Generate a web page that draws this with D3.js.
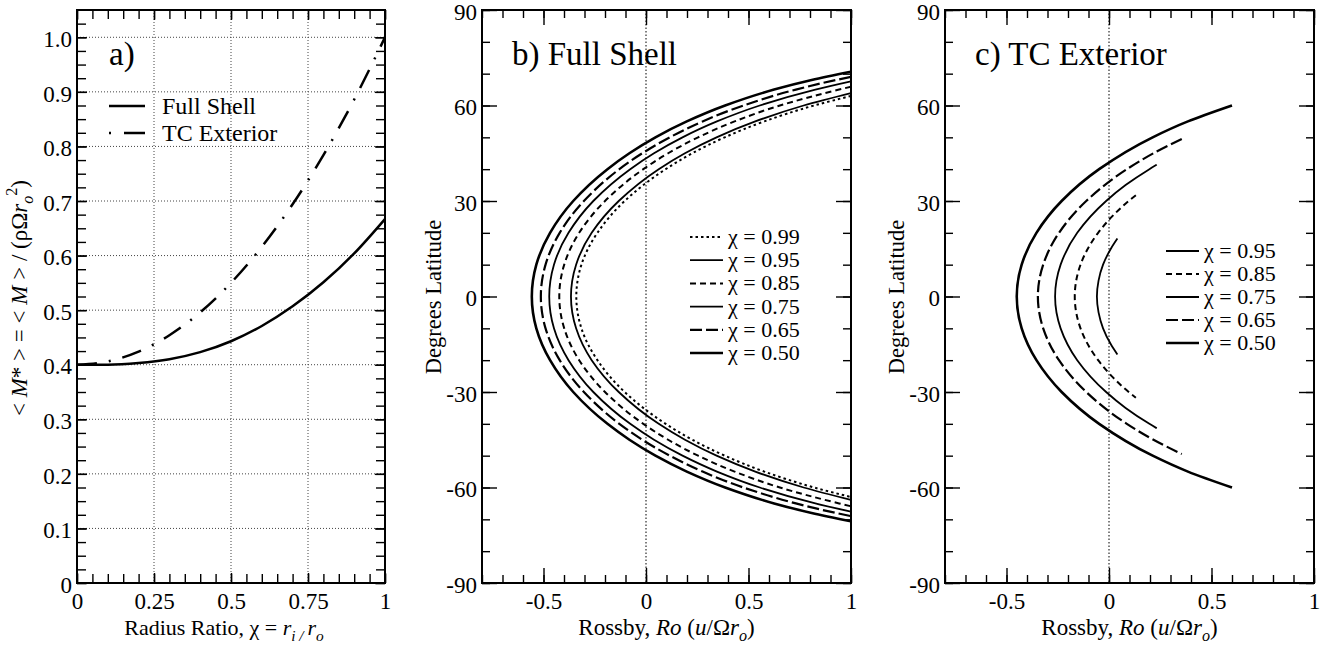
<!DOCTYPE html>
<html>
<head>
<meta charset="utf-8">
<script src="https://cdn.jsdelivr.net/npm/d3@7"></script>
<style>
body { margin: 0; background: #fff; }
svg { display: block; font-family: "Liberation Serif", "Times New Roman", serif; }
</style>
</head>
<body>
<div id="chart"></div>
<script>
// Panel a) mean angular momentum vs radius ratio
var chiA = [0, 0.1, 0.2, 0.3, 0.4, 0.5, 0.6, 0.7, 0.8, 0.9, 1.0];
var mFullShell = [0.400, 0.400, 0.403, 0.410, 0.423, 0.443, 0.471, 0.507, 0.551, 0.604, 0.667];
var mTCExterior = [0.400, 0.406, 0.424, 0.454, 0.496, 0.550, 0.616, 0.694, 0.784, 0.886, 1.000];

// Panel b) Full Shell: latitude vs Rossby number
var chiB = ["0.99", "0.95", "0.85", "0.75", "0.65", "0.50"];
var latB99 = [63.0, 60, 55, 50, 45, 40, 30, 20, 10, 0, -10, -20, -30, -40, -45, -50, -55, -60, -63.0];
var roB99 = [1.000, 0.820, 0.577, 0.384, 0.226, 0.096, -0.104, -0.237, -0.315, -0.340, -0.315, -0.237, -0.104, 0.096, 0.226, 0.384, 0.577, 0.820, 1.000];
var latB95 = [63.9, 60, 55, 50, 45, 40, 30, 20, 10, 0, -10, -20, -30, -40, -45, -50, -55, -60, -63.9];
var roB95 = [1.000, 0.769, 0.533, 0.344, 0.190, 0.062, -0.133, -0.265, -0.341, -0.366, -0.341, -0.265, -0.133, 0.062, 0.190, 0.344, 0.533, 0.769, 1.000];
var latB85 = [65.9, 65, 60, 55, 50, 45, 40, 30, 20, 10, 0, -10, -20, -30, -40, -45, -50, -55, -60, -65, -65.9];
var roB85 = [1.000, 0.942, 0.653, 0.432, 0.254, 0.108, -0.013, -0.200, -0.326, -0.399, -0.423, -0.399, -0.326, -0.200, -0.013, 0.108, 0.254, 0.432, 0.653, 0.942, 1.000];
var latB75 = [67.6, 65, 60, 55, 50, 45, 40, 30, 20, 10, 0, -10, -20, -30, -40, -45, -50, -55, -60, -65, -67.6];
var roB75 = [1.000, 0.826, 0.555, 0.346, 0.178, 0.039, -0.077, -0.257, -0.378, -0.449, -0.472, -0.449, -0.378, -0.257, -0.077, 0.039, 0.178, 0.346, 0.555, 0.826, 1.000];
var latB65 = [69.0, 67, 65, 60, 55, 50, 45, 40, 30, 20, 10, 0, -10, -20, -30, -40, -45, -50, -55, -60, -65, -67, -69.0];
var roB65 = [1.000, 0.857, 0.731, 0.475, 0.276, 0.116, -0.018, -0.130, -0.303, -0.421, -0.490, -0.513, -0.490, -0.421, -0.303, -0.130, -0.018, 0.116, 0.276, 0.475, 0.731, 0.857, 1.000];
var latB50 = [70.6, 68, 65, 60, 55, 50, 45, 40, 30, 20, 10, 0, -10, -20, -30, -40, -45, -50, -55, -60, -65, -68, -70.6];
var roB50 = [1.000, 0.808, 0.625, 0.386, 0.199, 0.046, -0.081, -0.188, -0.355, -0.468, -0.535, -0.557, -0.535, -0.468, -0.355, -0.188, -0.081, 0.046, 0.199, 0.386, 0.625, 0.808, 1.000];

// Panel c) TC Exterior
var chiC = ["0.95", "0.85", "0.75", "0.65", "0.50"];
var latC95 = [18.2, 15, 10, 5, 0, -5, -10, -15, -18.2];
var roC95 = [0.041, 0.009, -0.029, -0.051, -0.059, -0.051, -0.029, 0.009, 0.041];
var latC85 = [31.8, 30, 25, 20, 10, 0, -10, -20, -25, -30, -31.8];
var roC85 = [0.131, 0.096, 0.013, -0.053, -0.139, -0.167, -0.139, -0.053, 0.013, 0.096, 0.131];
var latC75 = [41.4, 40, 35, 30, 20, 10, 0, -10, -20, -30, -35, -40, -41.4];
var roC75 = [0.233, 0.197, 0.081, -0.014, -0.155, -0.236, -0.263, -0.236, -0.155, -0.014, 0.081, 0.197, 0.233];
var latC65 = [49.5, 45, 40, 30, 20, 10, 0, -10, -20, -30, -40, -45, -49.5];
var roC65 = [0.355, 0.217, 0.087, -0.111, -0.244, -0.321, -0.347, -0.321, -0.244, -0.111, 0.087, 0.217, 0.355];
var latC50 = [60, 55, 50, 40, 30, 20, 10, 0, -10, -20, -30, -40, -50, -55, -60];
var roC50 = [0.600, 0.385, 0.213, -0.048, -0.231, -0.354, -0.426, -0.450, -0.426, -0.354, -0.231, -0.048, 0.213, 0.385, 0.600];

var seriesB = [[latB99, roB99], [latB95, roB95], [latB85, roB85], [latB75, roB75], [latB65, roB65], [latB50, roB50]];
var seriesC = [[latC95, roC95], [latC85, roC85], [latC75, roC75], [latC65, roC65], [latC50, roC50]];

// line styles per radius ratio
var lineStyle = {
    "0.99": { dash: "2.5,3", w: 2 },
    "0.95": { dash: null, w: 1.8 },
    "0.85": { dash: "6,4", w: 2 },
    "0.75": { dash: null, w: 1.8 },
    "0.65": { dash: "12,4", w: 2.2 },
    "0.50": { dash: null, w: 2.6 }
};

var svgWidth = 1330, svgHeight = 646;
var plotTop = 10, plotH = 573;
var fontTick = 23;

var svg = d3.select("#chart").append("svg")
    .attr("width", svgWidth)
    .attr("height", svgHeight);

// write text with italic / sub / superscript parts
function richText(sel, parts, size) {
    var cur = 0;
    parts.forEach(function (p) {
        var shift = p.sub ? size * 0.25 : (p.sup ? -size * 0.42 : 0);
        var ts = sel.append("tspan").attr("dy", shift - cur).text(p.t);
        cur = shift;
        if (p.i) ts.attr("font-style", "italic");
        if (p.sub || p.sup) ts.attr("font-size", size * 0.7);
    });
}

// frame with inward ticks on all four sides
function frame(g, x, y, o) {
    var w = x.range()[1], h = y.range()[0];
    function side(axisFn, scale, vals, len, fmt, tr) {
        var a = axisFn(scale).tickValues(vals).tickSize(-len).tickPadding(o.pad || 5)
            .tickFormat(fmt || function () { return ""; });
        var s = g.append("g").attr("transform", tr).call(a);
        s.select(".domain").remove();
        s.selectAll("line").attr("stroke-width", 1.4);
        s.attr("font-family", null).attr("font-size", fontTick);
        return s;
    }
    side(d3.axisLeft, y, o.yMinor, o.minorLen, null, null);
    side(d3.axisRight, y, o.yMinor, o.minorLen, null, `translate(${w},0)`);
    side(d3.axisBottom, x, o.xMinor, o.minorLen, null, `translate(0,${h})`);
    side(d3.axisTop, x, o.xMinor, o.minorLen, null, null);
    side(d3.axisLeft, y, o.yMajor, o.majorLen, o.yFmt, null)
        .call(function (s) { s.selectAll("text").attr("x", -5).attr("dy", "0.4em"); });
    side(d3.axisRight, y, o.yMajor, o.majorLen, null, `translate(${w},0)`);
    side(d3.axisBottom, x, o.xMajor, o.majorLen, o.xFmt, `translate(0,${h})`)
        .call(function (s) { s.selectAll("text").attr("y", 10); });
    side(d3.axisTop, x, o.xMajor, o.majorLen, null, null);
    g.append("rect")
        .attr("width", w).attr("height", h)
        .attr("fill", "none").attr("stroke", "#000").attr("stroke-width", 2);
}

// ---------- Panel a ----------
(function () {
    var left = 77, w = 308;
    var g = svg.append("g").attr("transform", `translate(${left},${plotTop})`);
    var x = d3.scaleLinear().domain([0, 1]).range([0, w]);
    var y = d3.scaleLinear().domain([0, 1.05]).range([plotH, 0]);

    // dotted grid
    var gridY = d3.range(1, 11).map(function (i) { return i / 10; });
    var gridX = [0.25, 0.5, 0.75];
    g.selectAll(".gy").data(gridY).enter().append("line")
        .attr("x1", 0).attr("x2", w).attr("y1", y).attr("y2", y)
        .attr("stroke", "#444").attr("stroke-width", 1).attr("stroke-dasharray", "1,2");
    g.selectAll(".gx").data(gridX).enter().append("line")
        .attr("y1", 0).attr("y2", plotH).attr("x1", x).attr("x2", x)
        .attr("stroke", "#444").attr("stroke-width", 1).attr("stroke-dasharray", "1,2");

    var line = d3.line()
        .x(function (d, i) { return x(chiA[i]); })
        .y(function (d) { return y(d); })
        .curve(d3.curveMonotoneX);

    g.append("path").datum(mTCExterior).attr("d", line)
        .attr("fill", "none").attr("stroke", "#000").attr("stroke-width", 2.5)
        .attr("stroke-dasharray", "20,12,2,12");
    g.append("path").datum(mFullShell).attr("d", line)
        .attr("fill", "none").attr("stroke", "#000").attr("stroke-width", 2.5);

    frame(g, x, y, {
        xMajor: [0, 0.25, 0.5, 0.75, 1],
        xMinor: d3.range(0, 21).map(function (i) { return i * 0.05; }),
        yMajor: d3.range(0, 11).map(function (i) { return i / 10; }),
        yMinor: d3.range(0, 42).map(function (i) { return i * 0.025; }),
        majorLen: 10, minorLen: 9,
        xFmt: function (d) { return String(d); },
        yFmt: function (d) { return d === 0 ? "0" : d.toFixed(1); }
    });

    g.append("text").attr("x", 32).attr("y", 55).attr("font-size", 33).text("a)");

    // legend
    var leg = [{ name: "Full Shell", dash: null, y: 96 }, { name: "TC Exterior", dash: "2,13,21,13", y: 123 }];
    leg.forEach(function (l) {
        g.append("line").attr("x1", 32).attr("x2", 68).attr("y1", l.y).attr("y2", l.y)
            .attr("stroke", "#000").attr("stroke-width", 2.5).attr("stroke-dasharray", l.dash);
        g.append("text").attr("x", 85).attr("y", l.y + 8).attr("font-size", 24).text(l.name);
    });

    var yl = svg.append("text").attr("transform", "translate(27,298) rotate(-90)")
        .attr("text-anchor", "middle").attr("font-size", 23);
    richText(yl, [{ t: "< " }, { t: "M", i: true }, { t: "* > = < " }, { t: "M", i: true }, { t: " > / (ρΩ" },
        { t: "r", i: true }, { t: "o", i: true, sub: true }, { t: "2", sup: true }, { t: ")" }], 23);

    var xl = svg.append("text").attr("x", 224).attr("y", 635)
        .attr("text-anchor", "middle").attr("font-size", 22);
    richText(xl, [{ t: "Radius Ratio, χ = " }, { t: "r", i: true }, { t: "i / ", i: true, sub: true },
        { t: "r", i: true }, { t: "o", i: true, sub: true }], 22);
})();

// ---------- Panels b and c ----------
function rossbyPanel(left, id, title, chis, series, legX, legY0, legStep) {
    var w = 369;
    var g = svg.append("g").attr("transform", `translate(${left},${plotTop})`);
    var x = d3.scaleLinear().domain([-0.8, 1]).range([0, w]);
    var y = d3.scaleLinear().domain([-90, 90]).range([plotH, 0]);

    g.append("clipPath").attr("id", id).append("rect").attr("width", w).attr("height", plotH);

    // zero Rossby line
    g.append("line").attr("x1", x(0)).attr("x2", x(0)).attr("y1", 0).attr("y2", plotH)
        .attr("stroke", "#000").attr("stroke-width", 1).attr("stroke-dasharray", "1.5,2");

    var line = d3.line()
        .x(function (d) { return x(d[1]); })
        .y(function (d) { return y(d[0]); })
        .curve(d3.curveMonotoneY);

    series.forEach(function (s, k) {
        var pts = s[0].map(function (lat, i) { return [lat, s[1][i]]; });
        var st = lineStyle[chis[k]];
        g.append("path").datum(pts).attr("d", line)
            .attr("clip-path", `url(#${id})`)
            .attr("fill", "none").attr("stroke", "#000")
            .attr("stroke-width", st.w).attr("stroke-dasharray", st.dash);
    });

    frame(g, x, y, {
        xMajor: [-0.5, 0, 0.5, 1],
        xMinor: d3.range(-8, 11).map(function (i) { return i / 10; }),
        yMajor: d3.range(-90, 91, 30),
        yMinor: d3.range(-90, 91, 10),
        majorLen: 15, minorLen: 8,
        xFmt: function (d) { return String(d); },
        yFmt: function (d) { return String(d); }
    });

    g.append("text").attr("x", 30).attr("y", 55).attr("font-size", 33).text(title);

    chis.forEach(function (c, k) {
        var ly = legY0 + k * legStep;
        var st = lineStyle[c];
        g.append("line").attr("x1", legX).attr("x2", legX + 33).attr("y1", ly).attr("y2", ly)
            .attr("stroke", "#000").attr("stroke-width", st.w).attr("stroke-dasharray", st.dash);
        g.append("text").attr("x", legX + 38).attr("y", ly + 7).attr("font-size", 22).text("χ = " + c);
    });

    svg.append("text").attr("transform", `translate(${left - 41},297) rotate(-90)`)
        .attr("text-anchor", "middle").attr("font-size", 22.5).text("Degrees Latitude");

    var xl = svg.append("text").attr("x", left + w / 2).attr("y", 635)
        .attr("text-anchor", "middle").attr("font-size", 23);
    richText(xl, [{ t: "Rossby, " }, { t: "Ro", i: true }, { t: " (" }, { t: "u", i: true }, { t: "/Ω" },
        { t: "r", i: true }, { t: "o", i: true, sub: true }, { t: ")" }], 23);
}

rossbyPanel(482, "clipB", "b) Full Shell", chiB, seriesB, 208, 227, 23.2);
rossbyPanel(945, "clipC", "c) TC Exterior", chiC, seriesC, 221, 241, 23);
</script>
</body>
</html>
